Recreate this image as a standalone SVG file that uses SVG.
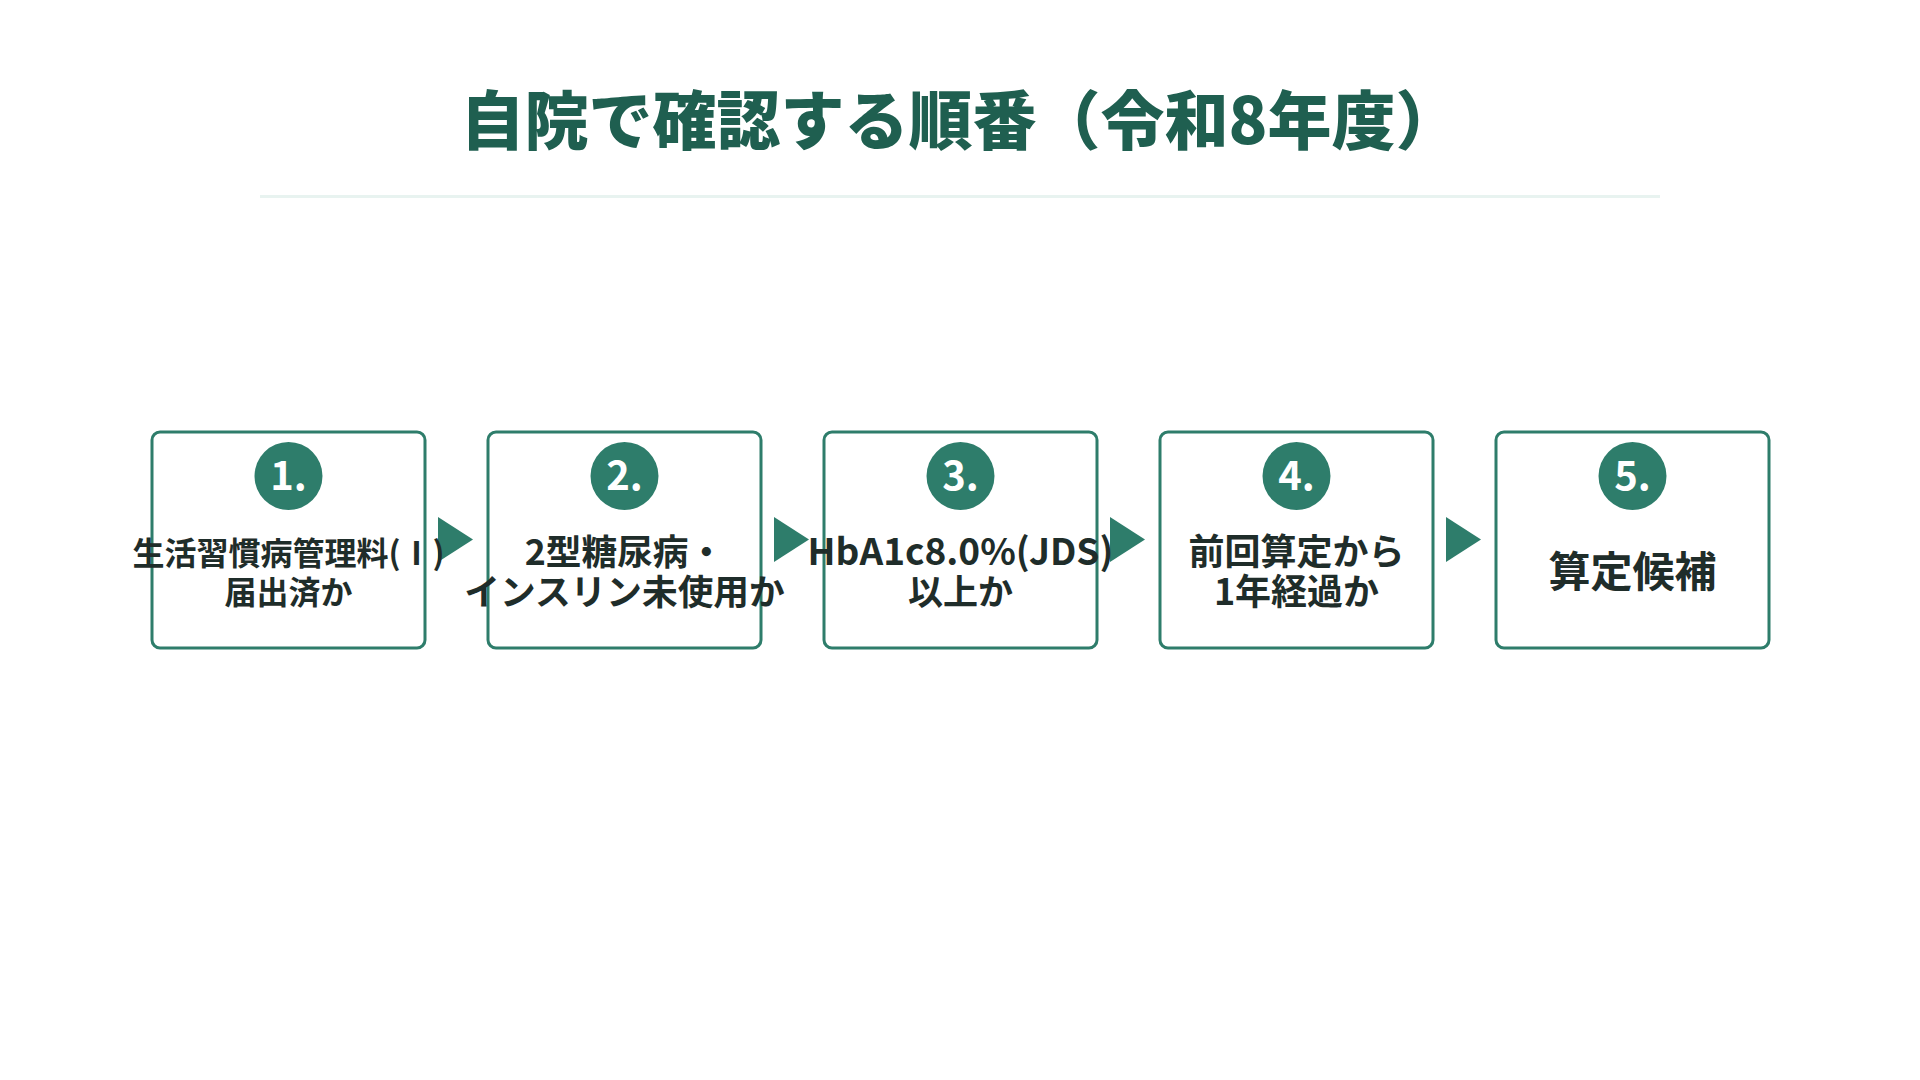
<svg xmlns="http://www.w3.org/2000/svg" width="1920" height="1080" viewBox="0 0 1920 1080">
<defs>
<style>
.bg{fill:#ffffff}
.title{font-family:"Noto Sans CJK JP","Noto Sans",sans-serif;font-weight:900;font-size:64px;fill:#1f5f50}
.rule{stroke:#e8f3f0;stroke-width:3}
.box{fill:#ffffff;stroke:#2e7d6b;stroke-width:3}
.badge{fill:#2e7d6b}
.num{font-family:"Noto Sans CJK JP","Noto Sans",sans-serif;font-weight:700;font-size:40px;fill:#ffffff}
.lbl{font-family:"Noto Sans CJK JP","Noto Sans",sans-serif;font-weight:700;fill:#1f2d2a}
.arrow{fill:#2e7d6b}
</style>
</defs>
<rect class="bg" x="0" y="0" width="1920" height="1080"/>
<g id="title">
<text class="title" x="960" y="144" text-anchor="middle">自院で確認する順番（令和8年度）</text>
<line class="rule" x1="260" y1="196.5" x2="1660" y2="196.5"/>
</g>
<g id="connectors">
<polygon class="arrow" points="438,517 438,562 473,539.5"/>
<polygon class="arrow" points="774,517 774,562 809,539.5"/>
<polygon class="arrow" points="1110,517 1110,562 1145,539.5"/>
<polygon class="arrow" points="1446,517 1446,562 1481,539.5"/>
</g>
<g id="step1">
<rect class="box" x="152" y="432" width="273" height="216" rx="8"/>
<circle class="badge" cx="288.5" cy="476" r="34"/>
<text class="num" x="288.5" y="490" text-anchor="middle">1.</text>
<text class="lbl" font-size="32" text-anchor="middle"><tspan x="288.5" y="565">生活習慣病管理料(Ⅰ)</tspan><tspan x="288.5" y="604">届出済か</tspan></text>
</g>
<g id="step2">
<rect class="box" x="488" y="432" width="273" height="216" rx="8"/>
<circle class="badge" cx="624.5" cy="476" r="34"/>
<text class="num" x="624.5" y="490" text-anchor="middle">2.</text>
<text class="lbl" font-size="35.7" text-anchor="middle"><tspan x="624.5" y="565">2型糖尿病・</tspan><tspan x="624.5" y="605">インスリン未使用か</tspan></text>
</g>
<g id="step3">
<rect class="box" x="824" y="432" width="273" height="216" rx="8"/>
<circle class="badge" cx="960.5" cy="476" r="34"/>
<text class="num" x="960.5" y="490" text-anchor="middle">3.</text>
<text class="lbl" font-size="35" text-anchor="middle"><tspan x="960.5" y="565" font-size="37">HbA1c8.0%(JDS)</tspan><tspan x="960.5" y="605">以上か</tspan></text>
</g>
<g id="step4">
<rect class="box" x="1160" y="432" width="273" height="216" rx="8"/>
<circle class="badge" cx="1296.5" cy="476" r="34"/>
<text class="num" x="1296.5" y="490" text-anchor="middle">4.</text>
<text class="lbl" font-size="36" text-anchor="middle"><tspan x="1296.5" y="565">前回算定から</tspan><tspan x="1296.5" y="605">1年経過か</tspan></text>
</g>
<g id="step5">
<rect class="box" x="1496" y="432" width="273" height="216" rx="8"/>
<circle class="badge" cx="1632.5" cy="476" r="34"/>
<text class="num" x="1632.5" y="490" text-anchor="middle">5.</text>
<text class="lbl" font-size="42" text-anchor="middle"><tspan x="1632.5" y="587">算定候補</tspan></text>
</g>
</svg>
